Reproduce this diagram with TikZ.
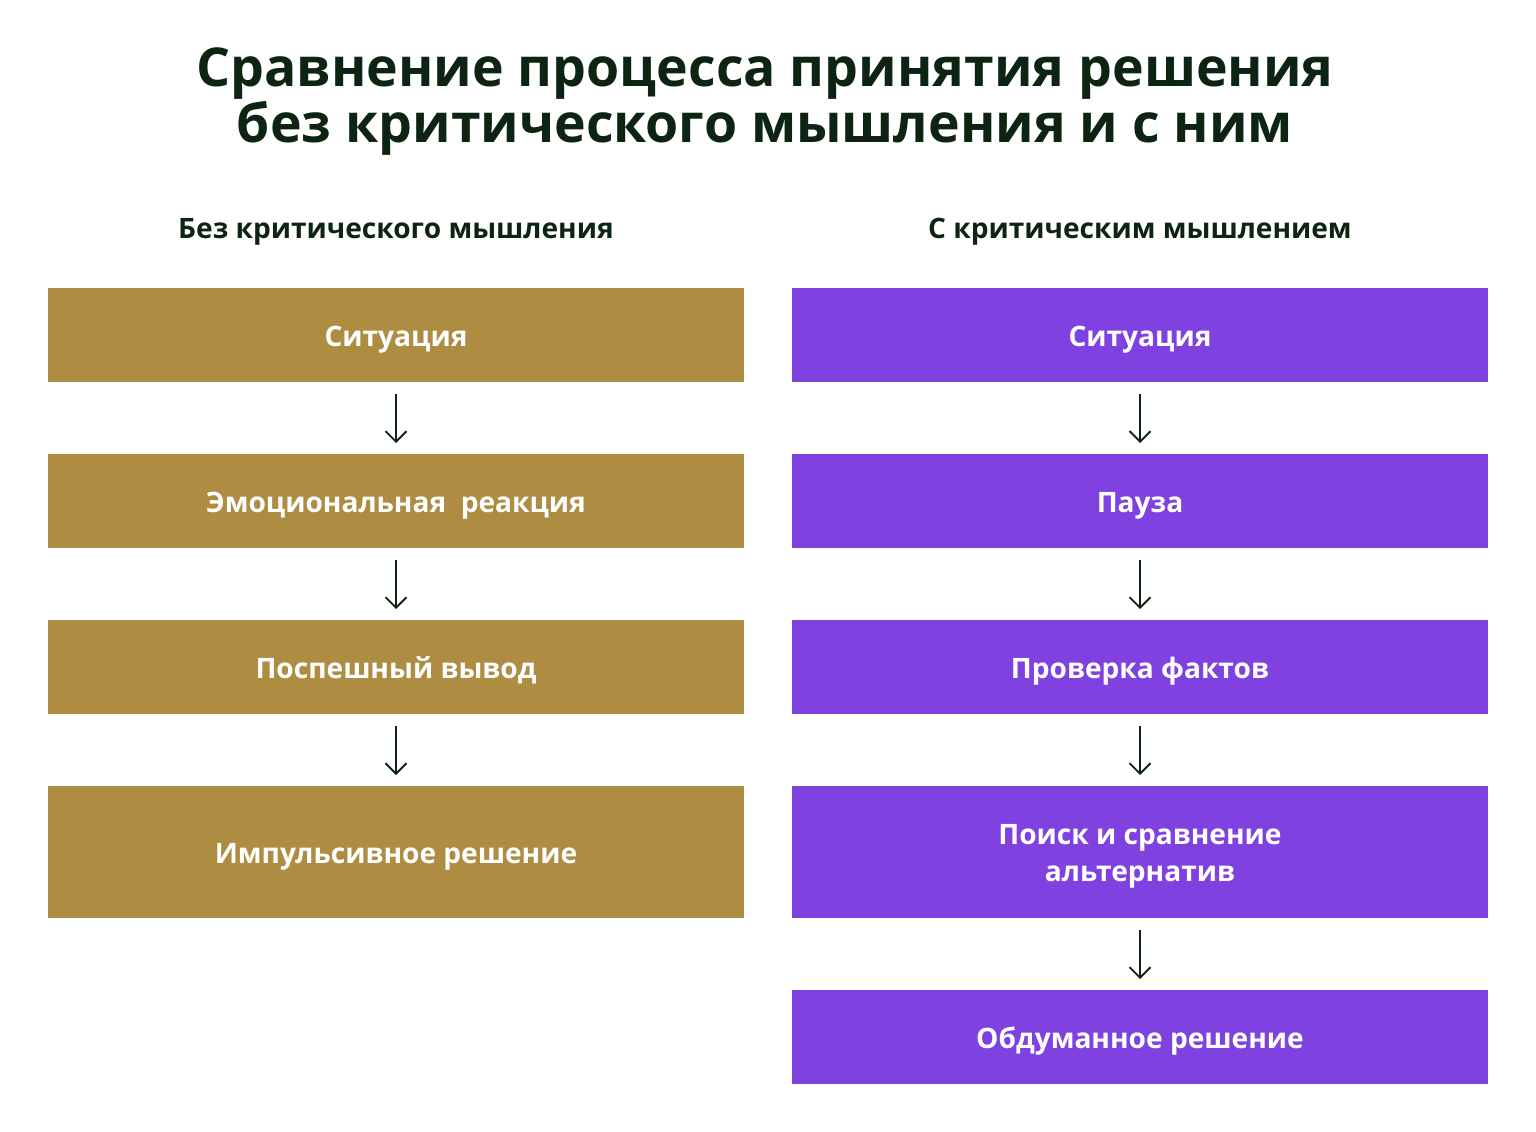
\documentclass[tikz,border=0pt]{standalone}
\usepackage{fontspec}
\setmainfont{Open Sans}
\usetikzlibrary{positioning, arrows.meta}

\definecolor{titlegreen}{HTML}{0D2412}
\definecolor{gold}{HTML}{AE8D42}
\definecolor{violet}{HTML}{7F42E0}

\begin{document}
\begin{tikzpicture}[
    >={Straight Barb[length=6pt, width=12pt]},
    node distance=1.44cm,
    stepbox/.style={
        rectangle,
        outer sep=0pt,
        minimum width=13.92cm,
        minimum height=1.88cm,
        align=center,
        text=white,
        text height=12.6pt,
        text depth=0pt,
        font=\fontsize{16}{21}\selectfont\bfseries
    },
    goldbox/.style={stepbox, fill=gold},
    violetbox/.style={stepbox, fill=violet},
    header/.style={
        anchor=base,
        text=titlegreen,
        font=\fontsize{16}{19}\selectfont\bfseries
    },
    arrow/.style={->, line width=1.1pt, draw=titlegreen, shorten >=0.22cm, shorten <=0.24cm}
]
\useasboundingbox (0,0) rectangle (30.72,-22.64);

% Title
\node[anchor=base, text=titlegreen, align=center, font=\fontsize{30.5}{31.9}\selectfont\bfseries] (title) at (15.30,-2.86)
    {Сравнение процесса принятия решения\\
     без критического мышления и с ним};

% Headers
\node[header] (lhead) at (7.92,-4.78) {Без критического мышления};
\node[header] (rhead) at (22.80,-4.78) {С критическим мышлением};

% Left column
\node[goldbox] (l1) at (7.92,-6.70) {Ситуация};
\node[goldbox, below=of l1] (l2) {Эмоциональная~ реакция};
\node[goldbox, below=of l2] (l3) {Поспешный вывод};
\node[goldbox, below=of l3, minimum height=2.64cm] (l4) {Импульсивное решение};

% Right column
\node[violetbox] (r1) at (22.80,-6.70) {Ситуация};
\node[violetbox, below=of r1] (r2) {Пауза};
\node[violetbox, below=of r2] (r3) {Проверка фактов};
\node[violetbox, below=of r3, minimum height=2.64cm, text height=33pt] (r4) {Поиск и сравнение\\альтернатив};
\node[violetbox, below=of r4] (r5) {Обдуманное решение};

% Arrows
\draw[arrow] (l1) -- (l2);
\draw[arrow] (l2) -- (l3);
\draw[arrow] (l3) -- (l4);
\draw[arrow] (r1) -- (r2);
\draw[arrow] (r2) -- (r3);
\draw[arrow] (r3) -- (r4);
\draw[arrow] (r4) -- (r5);

\end{tikzpicture}
\end{document}
